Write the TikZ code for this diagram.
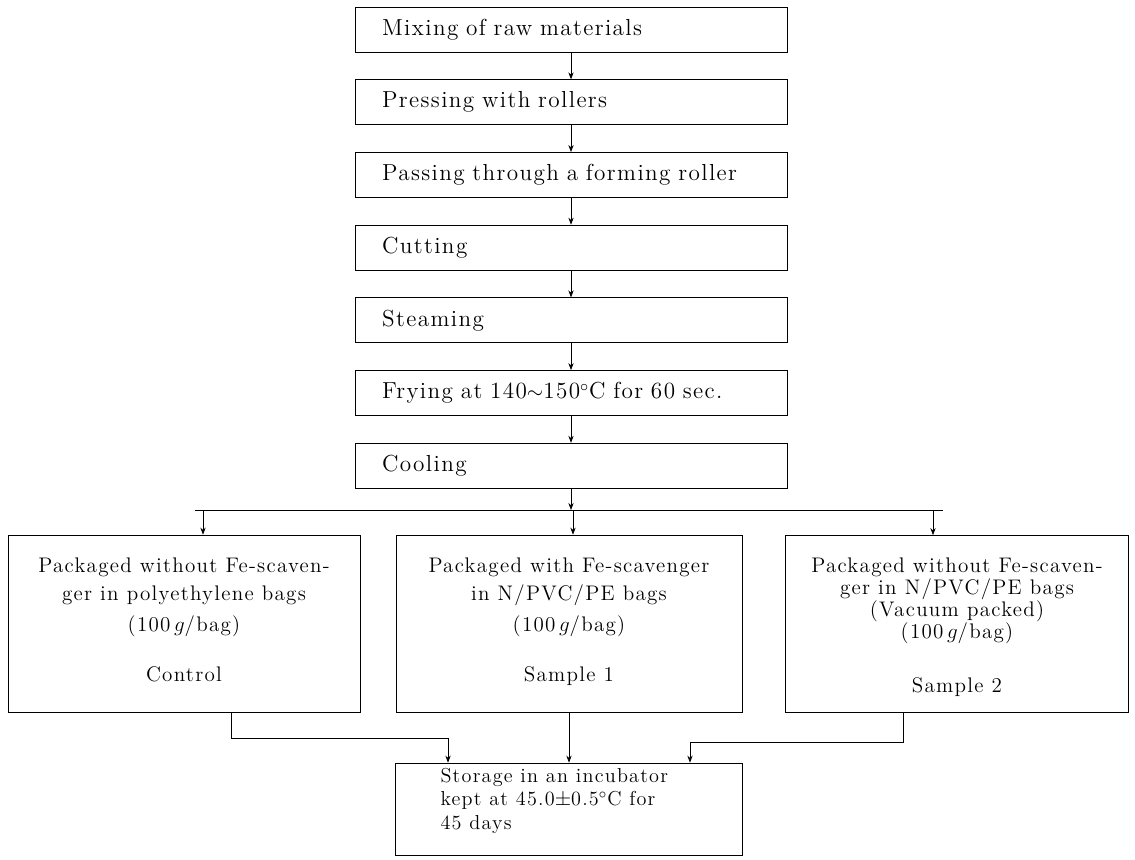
\documentclass[tikz,border=0pt]{standalone}
\usepackage{amsmath,amssymb}
\usepackage{fontspec}
\setmainfont{Latin Modern Roman}[LetterSpace=6]
\usepackage{tikz}
\usetikzlibrary{arrows.meta, positioning}

\newcommand{\packtext}[4]{\parbox[c][3.54cm][t]{#4}{\fontsize{12}{#2}\selectfont\lineskiplimit=-10pt\vspace*{#1}\centering #3}}

\begin{document}
\begin{tikzpicture}[x=0.02cm, y=-0.02cm,
  >={Stealth[length=4pt,width=3pt]},
  stepbox/.style={draw, thin, text width=7.56cm, inner xsep=0.54cm, minimum height=0.9cm, align=left, font=\fontsize{13.2}{15}\selectfont},
  packbox/.style={draw, thin, inner sep=0pt, minimum height=3.54cm},
  storebox/.style={draw, thin, inner xsep=0.9cm, inner ysep=0pt, minimum width=6.94cm, minimum height=1.84cm},
  link/.style={thin, ->}]
  \useasboundingbox (0,0) rectangle (1135,859);

  % Processing line
  \node[stepbox] (mix) at (571,29.5) {Mixing of raw materials};
  \node[stepbox, below=0.54cm of mix] (press) {Pressing with rollers};
  \node[stepbox, below=0.54cm of press] (form) {Passing through a forming roller};
  \node[stepbox, below=0.54cm of form] (cut) {Cutting};
  \node[stepbox, below=0.54cm of cut] (steam) {Steaming};
  \node[stepbox, below=0.54cm of steam] (fry) {Frying at 140$\sim$150$^\circ$C for 60 sec.};
  \node[stepbox, below=0.54cm of fry] (cool) {Cooling};

  \draw[link] (mix) -- (press);
  \draw[link] (press) -- (form);
  \draw[link] (form) -- (cut);
  \draw[link] (cut) -- (steam);
  \draw[link] (steam) -- (fry);
  \draw[link] (fry) -- (cool);

  % Packaging
  \node[packbox, minimum width=7.04cm] (ctrl) at (184,623.5) {\packtext{0.45cm}{16pt}{Packaged without Fe-scaven-\\ger in polyethylene bags\\[2pt](100\,$g$/bag)\\[12pt]Control}{6.9cm}};
  \node[packbox, minimum width=6.92cm] (smpa) at (569,623.5) {\packtext{0.45cm}{16pt}{Packaged with Fe-scavenger\\in N/PVC/PE bags\\[2pt](100\,$g$/bag)\\[12pt]Sample 1}{6.8cm}};
  \node[packbox, minimum width=6.86cm] (smpb) at (957,624) {\packtext{0.45cm}{12.5pt}{Packaged without Fe-scaven-\\ger in N/PVC/PE bags\\(Vacuum packed)\\(100\,$g$/bag)\\[18pt]Sample 2}{6.7cm}};

  \coordinate (barL) at (195,510);
  \coordinate (barR) at (943,510);
  \coordinate (dA) at (203,510);
  \coordinate (dB) at (573,510);
  \coordinate (dC) at (933,510);
  \draw[link] (cool) -- (cool.south |- barL);
  \draw[thin] (barL) -- (barR);
  \draw[link] (dA) -- (dA |- ctrl.north);
  \draw[link] (dB) -- (dB |- smpa.north);
  \draw[link] (dC) -- (dC |- smpb.north);

  % Storage
  \node[storebox] (store) at (569,809) {\parbox[c][1.84cm][t]{5.14cm}{\fontsize{11.5}{13.4}\selectfont\vspace*{0.1cm}\raggedright Storage in an incubator\\kept at 45.0$\pm$0.5$^\circ$C for\\45 days}};

  \draw[link] ([xshift=0.94cm]ctrl.south) -- ++(0,26) -| ([xshift=-2.42cm]store.north);
  \draw[link] (smpa.south) -- (store.north);
  \draw[link] ([xshift=-1.08cm]smpb.south) -- ++(0,30) -| ([xshift=2.42cm]store.north);
\end{tikzpicture}
\end{document}
